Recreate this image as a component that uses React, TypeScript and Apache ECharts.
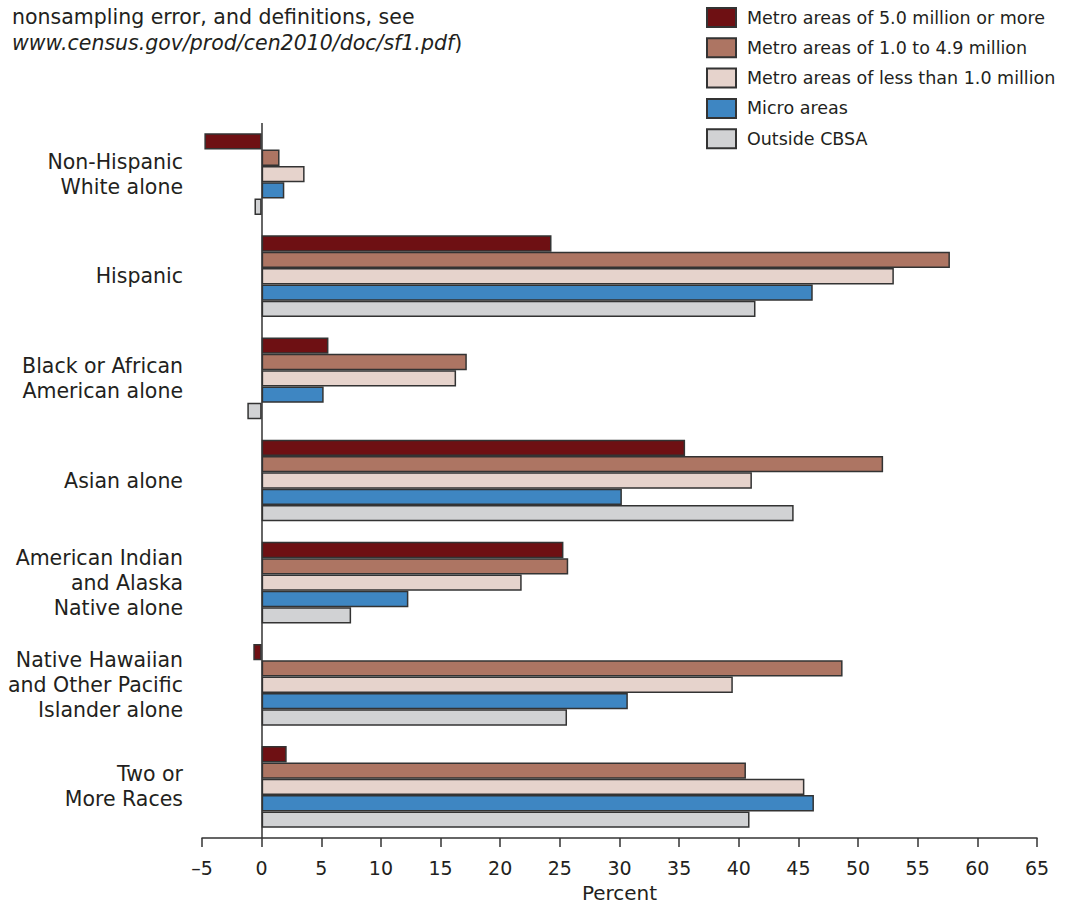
import React, { useEffect, useRef } from "react";
import * as echarts from "echarts";

const categories = [
  "Non-Hispanic\nWhite alone",
  "Hispanic",
  "Black or African\nAmerican alone",
  "Asian alone",
  "American Indian\nand Alaska\nNative alone",
  "Native Hawaiian\nand Other Pacific\nIslander alone",
  "Two or\nMore Races",
];

const seriesNames = [
  "Metro areas of 5.0 million or more",
  "Metro areas of 1.0 to 4.9 million",
  "Metro areas of less than 1.0 million",
  "Micro areas",
  "Outside CBSA",
];

const metroLarge = [-4.8, 24.3, 5.6, 35.5, 25.3, -0.7, 2.1];
const metroMid = [1.5, 57.7, 17.2, 52.1, 25.7, 48.7, 40.6];
const metroSmall = [3.6, 53.0, 16.3, 41.1, 21.8, 39.5, 45.5];
const microAreas = [1.9, 46.2, 5.2, 30.2, 12.3, 30.7, 46.3];
const outsideCBSA = [-0.6, 41.4, -1.2, 44.6, 7.5, 25.6, 40.9];

const seriesValues = [metroLarge, metroMid, metroSmall, microAreas, outsideCBSA];
const colors = ["#6e1013", "#ad7563", "#e6d3cc", "#3e86c2", "#d1d2d4"];

const FONT = "'DejaVu Sans', sans-serif";
const TEXT = "#231f20";

export default function App() {
  const ref = useRef<HTMLDivElement>(null);
  useEffect(() => {
    if (!ref.current) return;
    const chart = echarts.init(ref.current, undefined, { renderer: "svg" });
    const series: any[] = seriesNames.map((name, i) => ({
      name,
      type: "bar",
      data: seriesValues[i],
      barGap: "0%",
      barCategoryGap: "20%",
      itemStyle: { color: colors[i], borderColor: "#333", borderWidth: 1.5 },
    }));
    series[0].markLine = {
      silent: true,
      symbol: "none",
      label: { show: false },
      lineStyle: { color: "#333", width: 1.5, type: "solid" },
      data: [{ xAxis: 0 }],
    };
    chart.setOption({
      animation: false,
      textStyle: { fontFamily: FONT, color: TEXT },
      title: {
        left: 7,
        top: -1,
        padding: 5,
        text:
          "nonsampling error, and definitions, see\n{i|www.census.gov/prod/cen2010/doc/sf1.pdf})",
        textStyle: {
          fontFamily: FONT,
          fontSize: 20.5,
          fontWeight: "normal",
          color: TEXT,
          lineHeight: 26,
          rich: {
            i: { fontFamily: FONT, fontSize: 20.5, fontStyle: "italic", color: TEXT, lineHeight: 26 },
          },
        },
      },
      legend: {
        orient: "vertical",
        left: 701,
        top: 2,
        itemWidth: 29,
        itemHeight: 19,
        itemGap: 9.3,
        icon: "rect",
        data: seriesNames,
        textStyle: {
          fontFamily: FONT,
          fontSize: 17.5,
          color: TEXT,
          lineHeight: 19,
          padding: [2, 0, 0, 6],
        },
      },
      grid: {
        left: 202,
        right: 30,
        top: 123,
        bottom: 66,
        containLabel: false,
        outerBoundsMode: "none",
      },
      xAxis: {
        type: "value",
        min: -5,
        max: 65,
        interval: 5,
        name: "Percent",
        nameLocation: "middle",
        nameGap: 40,
        nameTextStyle: { fontFamily: FONT, fontSize: 20, color: TEXT, lineHeight: 22 },
        axisLine: { show: true, onZero: false, lineStyle: { color: "#333", width: 1.5 } },
        axisTick: { show: true, length: 9, lineStyle: { color: "#333", width: 1.5 } },
        axisLabel: {
          fontFamily: FONT,
          fontSize: 19,
          color: TEXT,
          margin: 20,
          formatter: (v: number) => (v < 0 ? "\u2013" + Math.abs(v) : String(v)),
        },
        splitLine: { show: false },
      },
      yAxis: {
        type: "category",
        data: categories,
        inverse: true,
        axisLine: { show: false, onZero: false },
        axisTick: { show: false },
        axisLabel: {
          fontFamily: FONT,
          fontSize: 20.5,
          color: TEXT,
          align: "right",
          margin: 19,
          lineHeight: 25,
        },
      },
      series,
    });
    return () => chart.dispose();
  }, []);
  return (
    <div
      ref={ref}
      style={{ position: "absolute", left: 0, top: 0, width: 1067, height: 904 }}
    />
  );
}
